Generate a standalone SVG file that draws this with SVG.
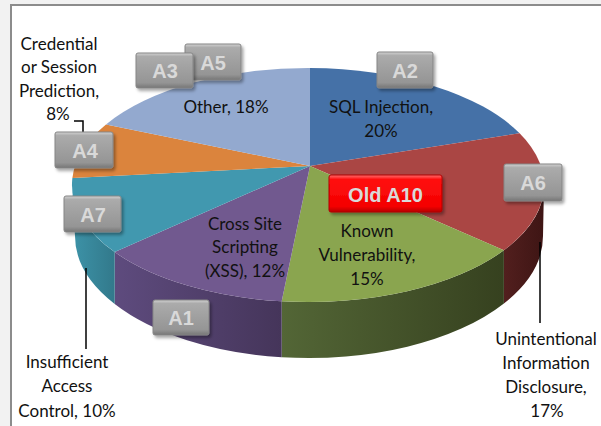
<svg xmlns="http://www.w3.org/2000/svg" width="601" height="426" viewBox="0 0 601 426">
<style>
.lbl{font-family:"Lato","Liberation Sans",sans-serif;font-size:17px;fill:#111;text-anchor:middle}
.btx{font-family:"Liberation Sans",Arial,sans-serif;font-size:20px;font-weight:bold;fill:#d9d9d9;text-anchor:middle}
.box{fill:url(#gbox);stroke:#858585;stroke-width:1}
.rbox{fill:url(#gred);stroke:#b00000;stroke-width:1}
.lead{fill:none;stroke:#000;stroke-width:1.5}
</style>
<defs>
<linearGradient id="gbox" x1="0" y1="0" x2="0" y2="1">
<stop offset="0" stop-color="#d2d2d2"/><stop offset="0.1" stop-color="#ababab"/><stop offset="0.85" stop-color="#959595"/><stop offset="1" stop-color="#767676"/>
</linearGradient>
<linearGradient id="gred" x1="0" y1="0" x2="0" y2="1">
<stop offset="0" stop-color="#ff7070"/><stop offset="0.12" stop-color="#ff1010"/><stop offset="0.85" stop-color="#f40000"/><stop offset="1" stop-color="#b80000"/>
</linearGradient>
<linearGradient id="sRed" x1="0" y1="0" x2="1" y2="0"><stop offset="0" stop-color="#521f1e"/><stop offset="1" stop-color="#3e1514"/></linearGradient>
<linearGradient id="sGreen" x1="0" y1="0" x2="1" y2="0"><stop offset="0" stop-color="#536636"/><stop offset="1" stop-color="#36411f"/></linearGradient>
<linearGradient id="sPurple" x1="0" y1="0" x2="1" y2="0"><stop offset="0" stop-color="#5e4b7e"/><stop offset="1" stop-color="#45355a"/></linearGradient>
<linearGradient id="sTeal" x1="0" y1="0" x2="1" y2="0"><stop offset="0" stop-color="#3d93a8"/><stop offset="1" stop-color="#32798b"/></linearGradient>
<filter id="sh" x="-20%" y="-20%" width="150%" height="160%"><feDropShadow dx="2" dy="2.5" stdDeviation="1.5" flood-color="#000" flood-opacity="0.35"/></filter>
</defs>
<rect x="0" y="0" width="601" height="426" fill="#f2f2f2"/>
<rect x="11" y="5" width="600" height="430" fill="#fff" stroke="#8c8c8c" stroke-width="2"/>

<g id="slice-sql">
<path d="M310,166 L310,68 A236,117 0 0 1 519.6,133.2 Z" fill="#4571a7"/>
</g>
<g id="slice-disclosure">
<path d="M544,185 A236,117 0 0 1 503.9,250.3 L503.9,303.5 A234,122 0 0 0 543,236 Z" fill="url(#sRed)"/>
<path d="M310,166 L519.6,133.2 A236,117 0 0 1 503.9,250.3 Z" fill="#aa4644"/>
</g>
<g id="slice-known">
<path d="M503.9,250.3 A236,117 0 0 1 281.7,301.3 L281.7,357.2 A234,122 0 0 0 503.9,303.5 Z" fill="url(#sGreen)"/>
<path d="M310,166 L503.9,250.3 A236,117 0 0 1 281.7,301.3 Z" fill="#8aa54f"/>
</g>
<g id="slice-xss">
<path d="M281.7,301.3 A236,117 0 0 1 114.7,252.1 L114.7,304 A234,122 0 0 0 281.7,357.2 Z" fill="url(#sPurple)"/>
<path d="M310,166 L281.7,301.3 A236,117 0 0 1 114.7,252.1 Z" fill="#71598f"/>
</g>
<g id="slice-access">
<path d="M114.7,252.1 A236,117 0 0 1 72,185 L75,236 A234,122 0 0 0 114.7,304 Z" fill="url(#sTeal)"/>
<path d="M310,166 L114.7,252.1 A236,117 0 0 1 72.4,177.9 Z" fill="#4198af"/>
</g>
<g id="slice-credential">
<path d="M310,166 L72.4,177.9 A236,117 0 0 1 106,124.5 Z" fill="#db843d"/>
</g>
<g id="slice-other">
<path d="M310,166 L106,124.5 A236,117 0 0 1 310,68 Z" fill="#93a9cf"/>
</g>

<g id="connectors">
<polyline class="lead" points="74,121 83,121 83,133"/>
<line class="lead" x1="86" y1="268" x2="86" y2="349"/>
<line class="lead" x1="540" y1="242" x2="540" y2="323"/>
</g>

<g id="label-other"><text class="lbl" x="226" y="113">Other, 18%</text></g>
<g id="label-sql"><text class="lbl" x="381" y="113">SQL Injection,</text><text class="lbl" x="381" y="137">20%</text></g>
<g id="label-xss"><text class="lbl" x="245" y="230">Cross Site</text><text class="lbl" x="245" y="253">Scripting</text><text class="lbl" x="245" y="277">(XSS), 12%</text></g>
<g id="label-known"><text class="lbl" x="367" y="237">Known</text><text class="lbl" x="367" y="261">Vulnerability,</text><text class="lbl" x="367" y="285">15%</text></g>
<g id="label-credential"><text class="lbl" x="59" y="50">Credential</text><text class="lbl" x="59" y="73">or Session</text><text class="lbl" x="59" y="97">Prediction,</text><text class="lbl" x="58" y="120">8%</text></g>
<g id="label-access"><text class="lbl" x="67" y="368">Insufficient</text><text class="lbl" x="67" y="392">Access</text><text class="lbl" x="67" y="417">Control, 10%</text></g>
<g id="label-disclosure"><text class="lbl" x="546" y="345">Unintentional</text><text class="lbl" x="546" y="369">Information</text><text class="lbl" x="546" y="393">Disclosure,</text><text class="lbl" x="547" y="417">17%</text></g>

<g id="box-a5"><rect class="box" x="185" y="44" width="56" height="36" rx="2" filter="url(#sh)"/><text class="btx" x="213" y="70">A5</text></g>
<g id="box-a3"><rect class="box" x="136" y="53" width="57" height="35" rx="2" filter="url(#sh)"/><text class="btx" x="165" y="78">A3</text></g>
<g id="box-a2"><rect class="box" x="377" y="52" width="56" height="36" rx="2" filter="url(#sh)"/><text class="btx" x="405" y="78">A2</text></g>
<g id="box-a4"><rect class="box" x="55" y="132" width="58" height="36" rx="2" filter="url(#sh)"/><text class="btx" x="85" y="158">A4</text></g>
<g id="box-a7"><rect class="box" x="64" y="196" width="57" height="36" rx="2" filter="url(#sh)"/><text class="btx" x="93" y="222">A7</text></g>
<g id="box-a1"><rect class="box" x="153" y="300" width="56" height="35" rx="2" filter="url(#sh)"/><text class="btx" x="181" y="325">A1</text></g>
<g id="box-a6"><rect class="box" x="504" y="164" width="58" height="37" rx="2" filter="url(#sh)"/><text class="btx" x="533" y="190">A6</text></g>
<g id="box-a10"><rect class="rbox" x="329" y="175" width="113" height="37" rx="2" filter="url(#sh)"/><text class="btx" x="385.5" y="202">Old A10</text></g>
</svg>
